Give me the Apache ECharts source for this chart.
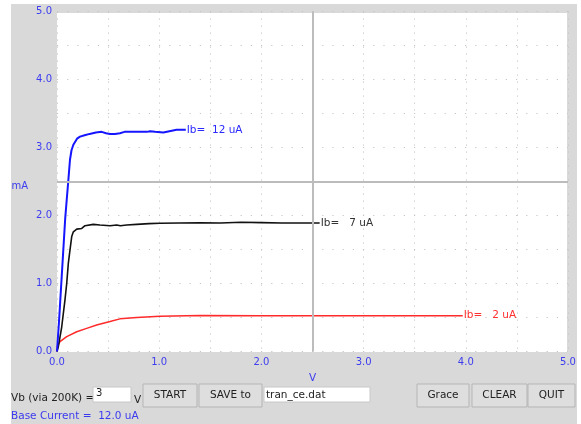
<!DOCTYPE html>
<html>
<head>
<meta charset="utf-8">
<script src="https://cdn.jsdelivr.net/npm/echarts@6/dist/echarts.min.js"></script>
<style>
html,body{margin:0;padding:0;background:#fff;}
#c{width:581px;height:424px;}
</style>
</head>
<body>
<div id="c"></div>
<script>
// ---- data ----
const xTicks = [0, 1, 2, 3, 4, 5];
const yTicks = [0, 1, 2, 3, 4, 5];
const seriesLabels = ['Ib=  12 uA', 'Ib=   7 uA', 'Ib=   2 uA'];
const ib12 = [[0,0],[0.02,0.45],[0.04,0.95],[0.06,1.45],[0.08,1.95],[0.095,2.23],[0.11,2.5],[0.127,2.82],[0.142,2.96],[0.16,3.04],[0.196,3.13],[0.225,3.16],[0.27,3.18],[0.32,3.2],[0.38,3.22],[0.437,3.23],[0.48,3.21],[0.519,3.2],[0.567,3.2],[0.616,3.21],[0.66,3.23],[0.71,3.23],[0.812,3.23],[0.88,3.23],[0.91,3.24],[0.96,3.23],[1.04,3.22],[1.1,3.24],[1.17,3.26],[1.26,3.26]];
const ib7 = [[0,0],[0.013,0.07],[0.046,0.36],[0.078,0.76],[0.095,1.0],[0.111,1.3],[0.127,1.49],[0.144,1.69],[0.16,1.76],[0.193,1.8],[0.242,1.81],[0.274,1.85],[0.29,1.87],[0.355,1.87],[0.42,1.86],[0.519,1.85],[0.584,1.86],[0.62,1.85],[0.682,1.86],[0.78,1.87],[0.9,1.88],[1.008,1.885],[1.2,1.89],[1.399,1.894],[1.6,1.89],[1.8,1.9],[2.0,1.895],[2.2,1.89],[2.4,1.89],[2.57,1.89]];
const ib2 = [[0,0],[0.005,0.08],[0.029,0.144],[0.095,0.218],[0.193,0.29],[0.29,0.34],[0.388,0.39],[0.519,0.44],[0.616,0.48],[0.78,0.5],[1.008,0.52],[1.4,0.53],[2.0,0.527],[3.0,0.527],[3.97,0.527]];
const crossX = 2.5, crossY = 2.5;
const xName = 'V', yName = 'mA';

const font = 'DejaVu Sans';
const axisBlue = '#3c3cf0';
const uiFont = '10.5px "' + font + '"';

function button(x, y, w, h, text) {
  return [
    {type:'rect', shape:{x:x, y:y, width:w, height:h}, style:{fill:'#dedede', stroke:'#b5b5b5', lineWidth:1}, z:1},
    {type:'text', x:x + w/2, y:y + h/2, style:{text:text, fill:'#222', font:uiFont, align:'center', verticalAlign:'middle'}, z:2}
  ];
}

const graphics = [
  {type:'rect', shape:{x:11, y:4, width:566, height:420}, style:{fill:'#d9d9d9'}, z:-20, silent:true},
  {type:'rect', shape:{x:57, y:13, width:510, height:339}, style:{fill:'#ffffff'}, z:-19, silent:true},
  {type:'text', x:11, y:398, style:{text:'Vb (via 200K) =', fill:'#222', font:uiFont, verticalAlign:'middle'}},
  {type:'rect', shape:{x:93, y:387, width:38, height:15}, style:{fill:'#fff', stroke:'#c8c8c8'}},
  {type:'text', x:96, y:393, style:{text:'3', fill:'#222', font:'10px "' + font + '"', verticalAlign:'middle'}},
  {type:'text', x:134, y:400, style:{text:'V', fill:'#222', font:uiFont, verticalAlign:'middle'}},
  {type:'rect', shape:{x:264, y:387, width:106, height:15}, style:{fill:'#fff', stroke:'#c8c8c8'}},
  {type:'text', x:266, y:395, style:{text:'tran_ce.dat', fill:'#222', font:uiFont, verticalAlign:'middle'}},
  {type:'text', x:11, y:416, style:{text:'Base Current =  12.0 uA', fill:'#3a3aee', font:uiFont, verticalAlign:'middle'}}
].concat(button(143,384,54,23,'START'), button(199,384,63,23,'SAVE to'), button(417,384,52,23,'Grace'), button(472,384,55,23,'CLEAR'), button(528,384,47,23,'QUIT'));

const chart = echarts.init(document.getElementById('c'), null, {renderer:'canvas'});

function lineSeries(data, color, label, labelColor, width) {
  return {
    type:'line', data:data, showSymbol:false, symbol:'none',
    lineStyle:{color:color, width:width}, itemStyle:{color:color},
    endLabel:{show:true, formatter:label, color:labelColor, fontFamily:font, fontSize:10.5, distance:1},
    animation:false
  };
}

chart.setOption({
  animation:false,
  backgroundColor:'#ffffff',
  graphic:graphics,
  grid:{left:57, right:13, top:11.5, bottom:72.5, show:false},
  xAxis:{
    type:'value', min:0, max:5, interval:0.5,
    name:xName, nameLocation:'middle', nameGap:15,
    nameTextStyle:{color:axisBlue, fontFamily:font, fontSize:10.5},
    axisLine:{show:false}, axisTick:{show:false},
    axisLabel:{color:axisBlue, fontFamily:font, fontSize:10, margin:6,
      formatter:function(v){ return xTicks.indexOf(v) >= 0 ? v.toFixed(1) : ''; }},
    splitLine:{show:true, lineStyle:{color:'#c6c6c6', width:1, type:[1.2, 5.8]}}
  },
  yAxis:{
    type:'value', min:0, max:5, interval:0.5,
    name:yName, nameLocation:'middle', nameGap:29, nameRotate:0,
    nameTextStyle:{color:axisBlue, fontFamily:font, fontSize:10, verticalAlign:'top'},
    axisLine:{show:false}, axisTick:{show:false},
    axisLabel:{color:axisBlue, fontFamily:font, fontSize:10, margin:5, padding:[6,0,0,0],
      formatter:function(v){ return yTicks.indexOf(v) >= 0 ? v.toFixed(1) : ''; }},
    splitLine:{show:true, lineStyle:{color:'#c6c6c6', width:1, type:[1.2, 9]}}
  },
  series:[
    {
      type:'line', data:[], silent:true,
      markLine:{silent:true, symbol:'none', label:{show:false},
        lineStyle:{color:'#bcbcbc', width:2, type:'solid'},
        data:[{xAxis:crossX},{yAxis:crossY}]}
    },
    lineSeries(ib2, '#ff2a2a', seriesLabels[2], '#ff3030', 1.5),
    lineSeries(ib7, '#111111', seriesLabels[1], '#333333', 1.6),
    lineSeries(ib12, '#1515ff', seriesLabels[0], '#2a2aff', 2)
  ]
});
</script>
</body>
</html>
